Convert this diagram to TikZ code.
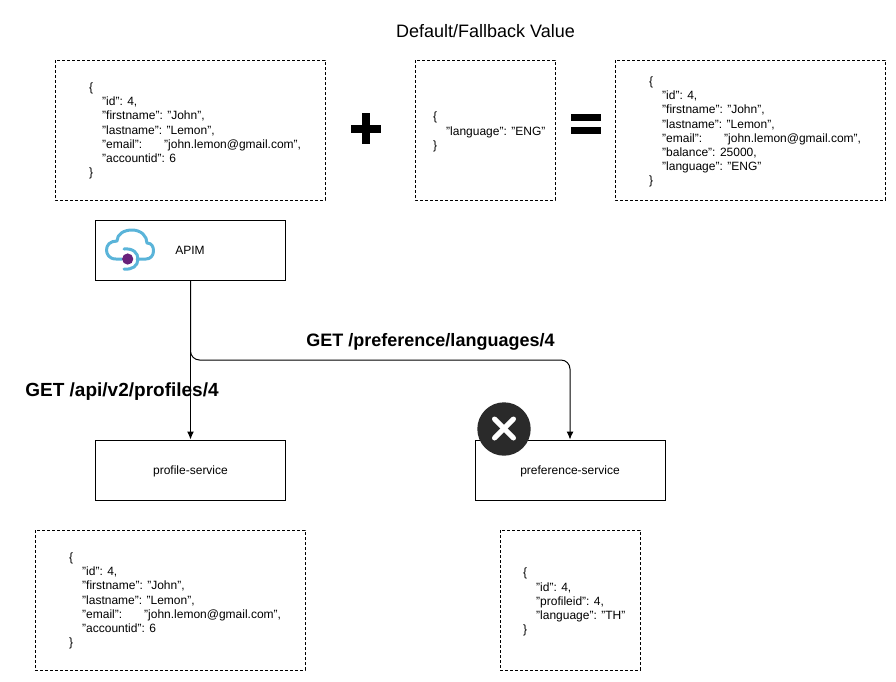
\documentclass[tikz,border=0pt]{standalone}
\usepackage{fontspec}
\setmainfont{Liberation Sans}
\usetikzlibrary{arrows.meta}
\definecolor{cloudblue}{HTML}{5AB4D9}
\definecolor{dotpurple}{HTML}{68217A}
\definecolor{badge}{HTML}{2A2A2A}
\tikzset{
  x=1pt,y=-1pt,
  dashframe/.style={dashed,dash pattern=on 3pt off 2pt,line width=1pt},
  jsontext/.style={anchor=north west,inner sep=0pt,align=left,font=\fontsize{12}{14.2}\selectfont},
  service/.style={draw,line width=1pt,minimum width=190pt,minimum height=60pt,inner sep=0pt,font=\fontsize{12}{13}\selectfont},
  biglabel/.style={inner sep=0pt,font=\fontsize{18}{21}\selectfont\bfseries},
  conn/.style={line width=1pt,-{Latex[length=8pt,width=7pt]}}
}
\newcommand{\ind}{\hspace*{13pt}}
\begin{document}
\begin{tikzpicture}
\useasboundingbox (0,0) rectangle (896,681);
% dashed frames
\draw[dashframe] (55,60) rectangle (325,200);
\draw[dashframe] (415,60) rectangle (555,200);
\draw[dashframe] (615,60) rectangle (885,200);
\draw[dashframe] (35,530) rectangle (305,670);
\draw[dashframe] (500,530) rectangle (640,670);
% json texts
\node[jsontext] (j1) at (89,82.5) {\{\\\ind"id": 4,\\\ind"firstname": "John",\\\ind"lastname": "Lemon",\\\ind"email":\hspace{22pt}"john.lemon@gmail.com",\\\ind"accountid": 6\\\}};
\node[jsontext] (j2) at (433,112) {\{\\\ind"language": "ENG"\\\}};
\node[jsontext] (j3) at (649,76.5) {\{\\\ind"id": 4,\\\ind"firstname": "John",\\\ind"lastname": "Lemon",\\\ind"email":\hspace{22pt}"john.lemon@gmail.com",\\\ind"balance": 25000,\\\ind"language": "ENG"\\\}};
\node[jsontext] (j4) at (69,552.5) {\{\\\ind"id": 4,\\\ind"firstname": "John",\\\ind"lastname": "Lemon",\\\ind"email":\hspace{22pt}"john.lemon@gmail.com",\\\ind"accountid": 6\\\}};
\node[jsontext] (j5) at (523,568) {\{\\\ind"id": 4,\\\ind"profileid": 4,\\\ind"language": "TH"\\\}};
% title
\node[inner sep=0pt,font=\fontsize{18}{21}\selectfont] (title) at (485.5,31) {Default/Fallback Value};
% plus / equals
\fill (351,125) rectangle (381,132.5);
\fill (362.3,113.3) rectangle (370,144);
\fill (571,114) rectangle (601,121);
\fill (571,126.7) rectangle (601,134);
% services
\node[service] (apim) at (190.5,250) {};
\node[inner sep=0pt,font=\fontsize{12}{13}\selectfont] (apimlabel) at (190,250) {APIM};
\node[service,text depth=0pt] (profile) at (190.5,470) {\raisebox{-0.5pt}{profile-service}};
\node[service,text depth=0pt] (pref) at (570,470) {\raisebox{-0.5pt}{preference-service}};
% connectors
\coordinate (bendA) at (190.5,360);
\coordinate (bendB) at (570,360);
\draw[conn] (apim.south) -- (profile.north);
\draw[conn,rounded corners=9pt] (apim.south) -- (bendA) -- (bendB) -- (pref.north);
% labels
\node[biglabel,font=\fontsize{19}{22}\selectfont\bfseries] (l1) at (122,392) {GET /api/v2/profiles/4};
\node[biglabel] (l2) at (430.5,342) {GET /preference/languages/4};
% badge
\fill[badge] (504,429) circle (26.7);
\draw[white,line width=5pt,line cap=round] (494.5,419) -- (513.5,438);
\draw[white,line width=5pt,line cap=round] (513.5,419) -- (494.5,438);
% cloud icon
\draw[cloudblue,line width=3pt,line cap=round,line join=round]
  (122,259) -- (116,259) .. controls (109,259) and (106.5,254) .. (106.5,250)
  .. controls (106.5,245) and (110,241) .. (117,241)
  .. controls (117,234) and (124,230) .. (132,230)
  .. controls (141,230) and (147,236) .. (147,243)
  .. controls (152,243) and (153.5,247) .. (153.5,251)
  .. controls (153.5,256) and (150,259) .. (146,259) -- (137,259);
\draw[cloudblue,line width=3pt,line cap=round]
  (124,249) .. controls (133,248) and (138,253) .. (138,259)
  .. controls (138,266) and (132,270) .. (124,269);
\fill[dotpurple] (127.7,259) circle (5.6);
\end{tikzpicture}
\end{document}
